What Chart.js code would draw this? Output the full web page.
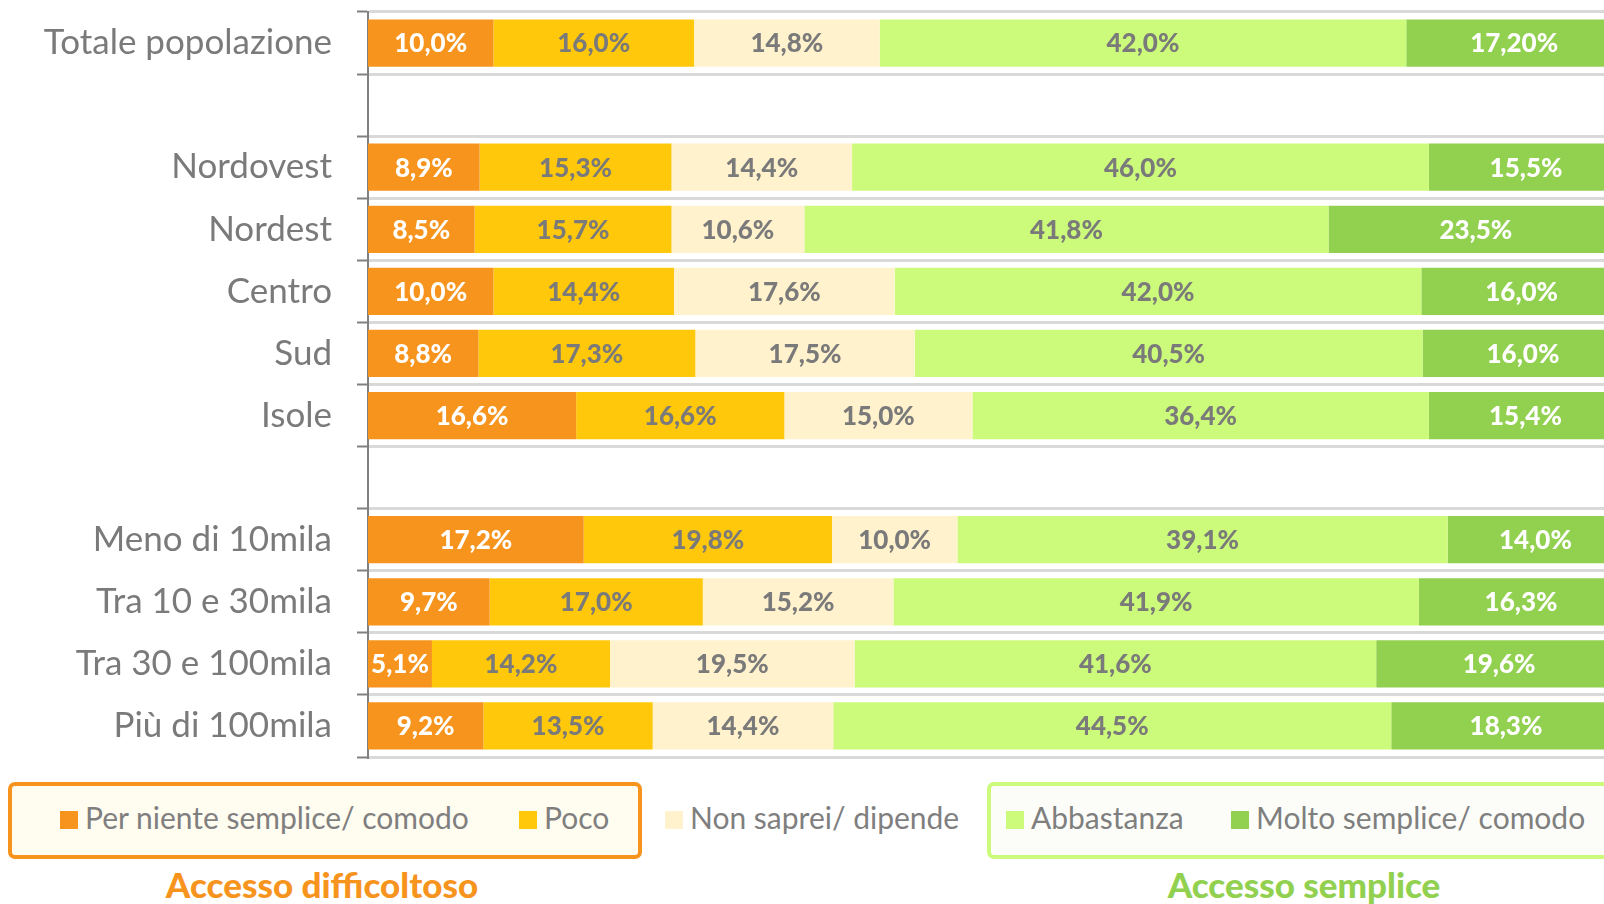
<!DOCTYPE html>
<html>
<head>
<meta charset="utf-8">
<script src="https://cdn.jsdelivr.net/npm/chart.js@4.4.1/dist/chart.umd.min.js"></script>
<style>
  body { margin: 0; width: 1604px; height: 904px; overflow: hidden; background: #fff; font-family: Lato, sans-serif; position: relative; }
  #chart { position: absolute; left: 0; top: 0; }
  .box { position: absolute; top: 782px; height: 69px; border-radius: 7px; }
  #box1 { left: 8px; width: 626px; border: 4px solid #f7941d; background: #fffcf0; }
  #box2 { left: 987px; width: 700px; border: 4px solid #ccfa7a; background: #fcfdf8; }
  .item { position: absolute; top: 800px; font-size: 30px; color: #7f7f7f; line-height: 34px; white-space: nowrap; }
  .sq { position: absolute; top: 811px; width: 18px; height: 18px; }
  .group { position: absolute; top: 863px; font-size: 35px; font-weight: 900; line-height: 42px; transform: translateX(-50%); white-space: nowrap; }
</style>
</head>
<body>
<canvas id="chart" width="1622" height="770"></canvas>

<div class="box" id="box1"></div>
<div class="box" id="box2"></div>
<div id="legend"></div>
<div class="group" style="left:322px;color:#f7941d">Accesso difficoltoso</div>
<div class="group" style="left:1304px;color:#92d050">Accesso semplice</div>

<script>
// categories (empty strings are the spacer rows)
const categories = ["Totale popolazione", "", "Nordovest", "Nordest", "Centro", "Sud", "Isole", "",
  "Meno di 10mila", "Tra 10 e 30mila", "Tra 30 e 100mila", "Più di 100mila"];

const perNiente  = [10.0, null, 8.9, 8.5, 10.0, 8.8, 16.6, null, 17.2, 9.7, 5.1, 9.2];
const poco       = [16.0, null, 15.3, 15.7, 14.4, 17.3, 16.6, null, 19.8, 17.0, 14.2, 13.5];
const nonSaprei  = [14.8, null, 14.4, 10.6, 17.6, 17.5, 15.0, null, 10.0, 15.2, 19.5, 14.4];
const abbastanza = [42.0, null, 46.0, 41.8, 42.0, 40.5, 36.4, null, 39.1, 41.9, 41.6, 44.5];
const molto      = [17.2, null, 15.5, 23.5, 16.0, 16.0, 15.4, null, 14.0, 16.3, 19.6, 18.3];

const seriesNames = ["Per niente semplice/ comodo", "Poco", "Non saprei/ dipende", "Abbastanza", "Molto semplice/ comodo"];
const seriesColors = ["#f7941d", "#ffc80a", "#fff2cc", "#ccfa7a", "#92d050"];
const labelColors = ["#ffffff", "#7a7a7a", "#7a7a7a", "#7a7a7a", "#ffffff"];

// legend (html, so the group boxes can sit around it)
const legendX = [60, 519, 665, 1006, 1231];
let html = "";
seriesNames.forEach(function(name, i){
  html += '<div class="sq" style="left:' + legendX[i] + 'px;background:' + seriesColors[i] + '"></div>';
  html += '<div class="item" style="left:' + (legendX[i] + 25) + 'px">' + name + '</div>';
});
document.getElementById("legend").innerHTML = html;

function fmt(v, ds, row) {
  // the total row of the last series is written with two decimals in the original
  const dec = (ds === 4 && row === 0) ? 2 : 1;
  return v.toFixed(dec).replace(".", ",") + "%";
}

const barLabels = {
  id: "barLabels",
  afterDatasetsDraw(chart) {
    const ctx = chart.ctx;
    ctx.save();
    ctx.font = "900 26px Lato";
    ctx.textAlign = "center";
    ctx.textBaseline = "middle";
    chart.data.datasets.forEach(function(ds, i){
      chart.getDatasetMeta(i).data.forEach(function(el, j){
        const v = ds.data[j];
        if (v == null) return;
        const p = el.getCenterPoint();
        ctx.fillStyle = labelColors[i];
        ctx.fillText(fmt(v, i, j), p.x, p.y + 1);
      });
    });
    ctx.restore();
  }
};

const allData = [perNiente, poco, nonSaprei, abbastanza, molto];

new Chart(document.getElementById("chart").getContext("2d"), {
  type: "bar",
  data: {
    labels: categories,
    datasets: allData.map(function(d, i){
      return { label: seriesNames[i], data: d, backgroundColor: seriesColors[i], borderWidth: 0 };
    })
  },
  options: {
    indexAxis: "y",
    responsive: false,
    animation: false,
    devicePixelRatio: 1,
    layout: { padding: { top: 12, bottom: 13, left: 0, right: 0 } },
    barPercentage: 0.76,
    categoryPercentage: 1,
    plugins: { legend: { display: false }, tooltip: { enabled: false } },
    scales: {
      x: { stacked: true, min: 0, max: 100, display: false },
      y: {
        stacked: true,
        grid: { offset: true, color: "#d9d9d9", lineWidth: 3, tickColor: "#808080", tickLength: 11, tickWidth: 2 },
        border: { color: "#808080", width: 2 },
        ticks: { color: "#7a7a7a", font: { family: "Lato", size: 35 }, padding: 25 },
        afterFit: function(s){ s.width = 368; s.paddingTop = 0; s.paddingBottom = 0; }
      }
    }
  },
  plugins: [barLabels]
});
</script>
</body>
</html>
